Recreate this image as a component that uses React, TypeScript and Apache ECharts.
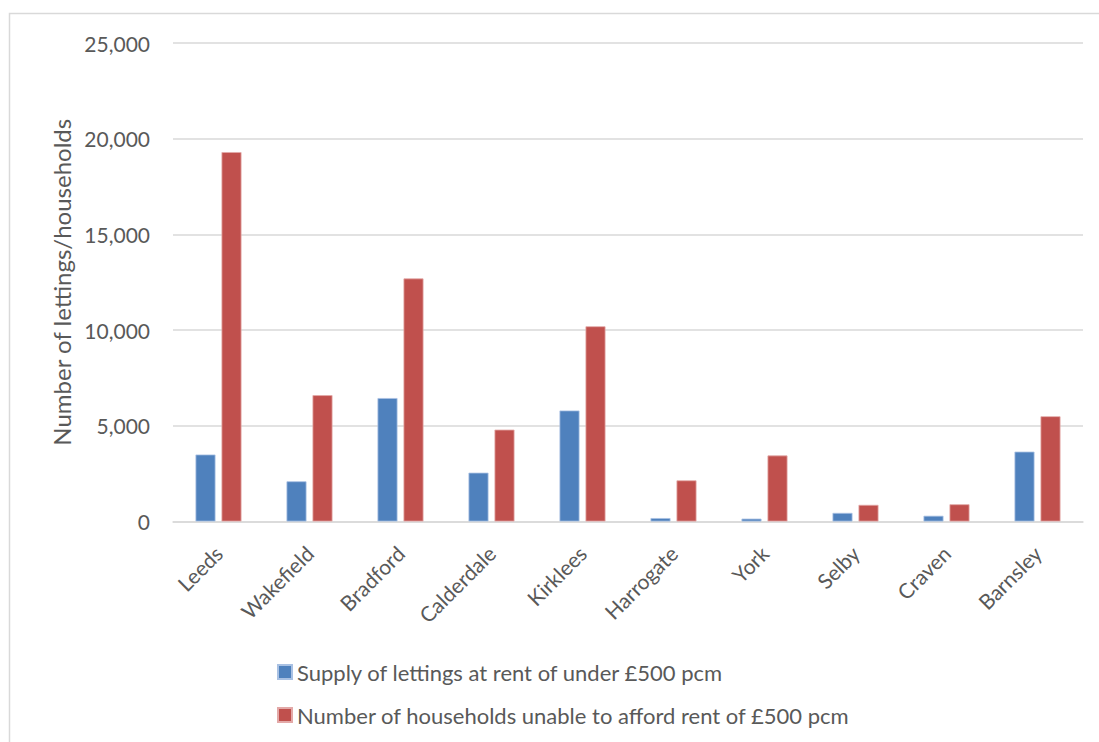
import React, { useEffect, useRef } from "react";
import * as echarts from "echarts";

const categories = ["Leeds", "Wakefield", "Bradford", "Calderdale", "Kirklees", "Harrogate", "York", "Selby", "Craven", "Barnsley"];
const supplyValues = [3500, 2100, 6450, 2550, 5800, 180, 150, 450, 300, 3650];
const unableValues = [19300, 6600, 12700, 4800, 10200, 2150, 3450, 870, 900, 5500];
const seriesNames = [
  "Supply of lettings at rent of under £500 pcm",
  "Number of households unable to afford rent of £500 pcm",
];
const yTicks = { min: 0, max: 25000, interval: 5000 };

const FONT = "Lato, 'Open Sans', sans-serif";

export default function App() {
  const ref = useRef<HTMLDivElement>(null);
  useEffect(() => {
    if (!ref.current) return;
    const chart = echarts.init(ref.current, undefined, { renderer: "svg" });
    chart.setOption({
      animation: false,
      backgroundColor: "#ffffff",
      textStyle: { fontFamily: FONT },
      graphic: [
        {
          type: "rect",
          shape: { x: 9.5, y: 13.5, width: 1200, height: 800 },
          style: { fill: "none", stroke: "#d9d9d9", lineWidth: 1.5 },
          silent: true,
        },
      ],
      grid: { left: 173, right: 16, top: 43, bottom: 220.5, containLabel: false },
      legend: {
        orient: "vertical",
        left: 272,
        top: 656,
        itemWidth: 14,
        itemHeight: 14,
        itemGap: 21,
        icon: "rect",
        textStyle: { fontSize: 22, color: "#595959", fontFamily: FONT },
        data: seriesNames,
      },
      xAxis: {
        type: "category",
        data: categories,
        axisLine: { show: true, lineStyle: { color: "#d9d9d9", width: 1.5 } },
        axisTick: { show: false },
        axisLabel: { rotate: 45, fontSize: 21, color: "#595959", margin: 28, interval: 0, fontFamily: FONT },
      },
      yAxis: {
        type: "value",
        min: yTicks.min,
        max: yTicks.max,
        interval: yTicks.interval,
        name: "Number of lettings/households",
        nameLocation: "middle",
        nameGap: 100,
        nameTextStyle: { fontSize: 24, color: "#595959", fontFamily: FONT },
        axisLine: { show: false },
        axisTick: { show: false },
        splitLine: { lineStyle: { color: "#d9d9d9", width: 1.5 } },
        axisLabel: {
          fontSize: 21,
          color: "#595959",
          margin: 23,
          fontFamily: FONT,
          formatter: (v: number) => v.toLocaleString("en-GB"),
        },
      },
      series: [
        {
          name: seriesNames[0],
          type: "bar",
          data: supplyValues,
          barWidth: 20,
          barGap: "30%",
          itemStyle: { color: "#4F81BD", borderColor: "#a9c1e3", borderWidth: 0.8 },
        },
        {
          name: seriesNames[1],
          type: "bar",
          data: unableValues,
          barWidth: 20,
          itemStyle: { color: "#C0504D", borderColor: "#e3a9a8", borderWidth: 0.8 },
        },
      ],
    });
    return () => chart.dispose();
  }, []);
  return <div ref={ref} style={{ position: "fixed", left: 0, top: 0, width: 1099, height: 742 }} />;
}
